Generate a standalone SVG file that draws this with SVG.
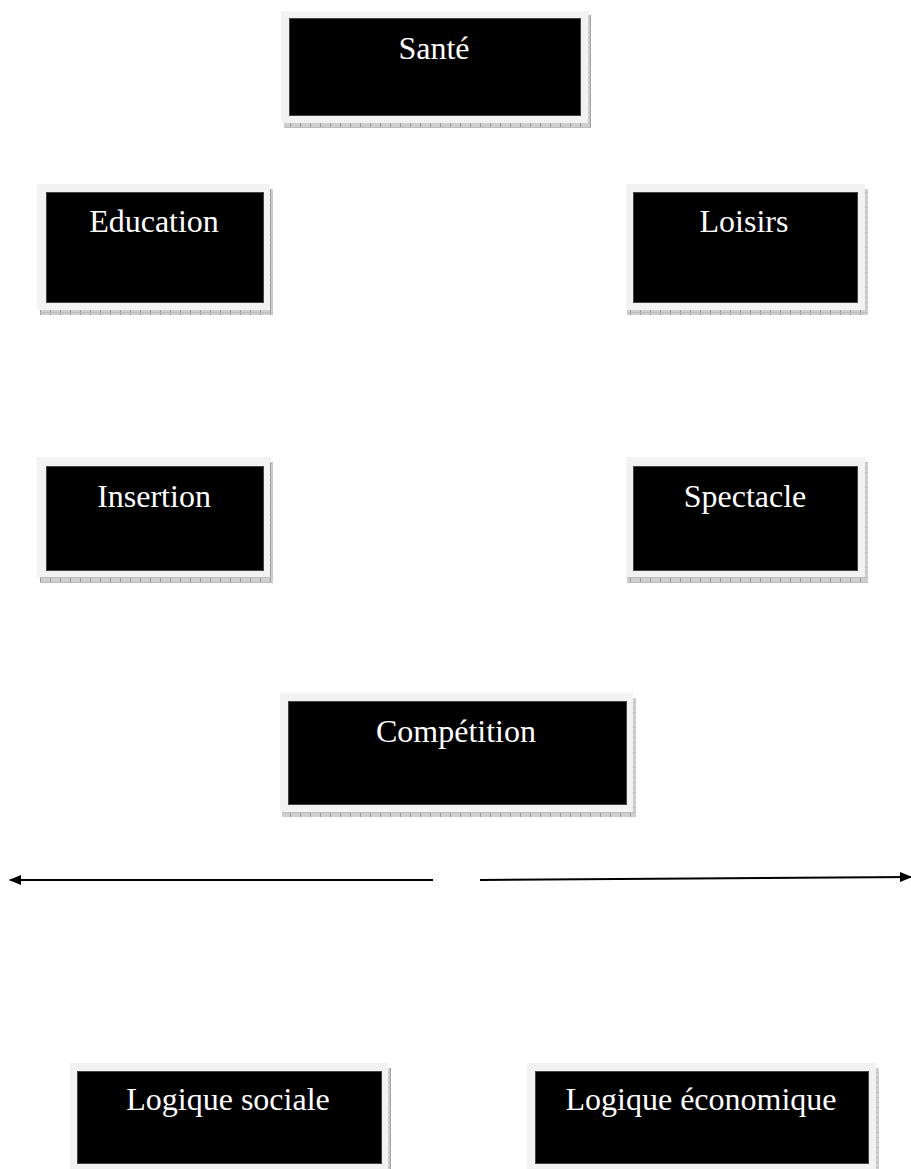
<svg xmlns="http://www.w3.org/2000/svg" width="911" height="1169" viewBox="0 0 911 1169">
<style>
.frame{fill:#f2f2f2}
.box{fill:#000;stroke:#444;stroke-width:1}
.shadow{fill:url(#hatch)}
.lbl{font-family:"Liberation Serif","Times New Roman",serif;font-size:32px;fill:#fff;text-anchor:middle}
.conn{stroke:#000;stroke-width:2;fill:none;marker-end:url(#arrow)}
</style>
<defs>
<pattern id="hatch" width="10" height="5" patternUnits="userSpaceOnUse">
<rect width="10" height="5" fill="#cfcfcf"/>
<rect x="0" y="0" width="1" height="5" fill="#9a9a9a"/>
<rect x="0" y="2" width="10" height="1" fill="#bdbdbd"/>
</pattern>
<marker id="arrow" markerWidth="12" markerHeight="10" refX="11" refY="5" orient="auto" markerUnits="userSpaceOnUse">
<path d="M0,0 L12,5 L0,10 Z" fill="#000"/>
</marker>
</defs>
<rect width="911" height="1169" fill="#fff"/>

<g id="sante">
<rect class="shadow" x="284" y="15" width="307" height="113"/>
<rect class="frame" x="281" y="11" width="307" height="112"/>
<rect class="box" x="289.5" y="18.5" width="291" height="97"/>
<text class="lbl" x="434" y="59">Santé</text>
</g>

<g id="education">
<rect class="shadow" x="40" y="189" width="233" height="126"/>
<rect class="frame" x="37" y="184" width="233" height="126"/>
<rect class="box" x="46.5" y="192.5" width="217" height="110"/>
<text class="lbl" x="154" y="232">Education</text>
</g>

<g id="loisirs">
<rect class="shadow" x="627" y="189" width="241" height="126"/>
<rect class="frame" x="626" y="184" width="239" height="126"/>
<rect class="box" x="633.5" y="192.5" width="224" height="110"/>
<text class="lbl" x="744" y="232">Loisirs</text>
</g>

<g id="insertion">
<rect class="shadow" x="40" y="462" width="233" height="121"/>
<rect class="frame" x="37" y="457" width="233" height="120"/>
<rect class="box" x="46.5" y="466.5" width="217" height="104"/>
<text class="lbl" x="154" y="507">Insertion</text>
</g>

<g id="spectacle">
<rect class="shadow" x="627" y="462" width="241" height="121"/>
<rect class="frame" x="626" y="457" width="239" height="120"/>
<rect class="box" x="633.5" y="466.5" width="224" height="104"/>
<text class="lbl" x="745" y="507">Spectacle</text>
</g>

<g id="competition">
<rect class="shadow" x="282" y="698" width="354" height="119"/>
<rect class="frame" x="280" y="693" width="353" height="119"/>
<rect class="box" x="288.5" y="701.5" width="338" height="103"/>
<text class="lbl" x="456" y="742">Compétition</text>
</g>

<g id="logique-sociale">
<rect class="shadow" x="73" y="1068" width="318" height="101"/>
<rect class="frame" x="70" y="1063" width="318" height="106"/>
<rect class="box" x="77.5" y="1071.5" width="304" height="92"/>
<text class="lbl" x="228" y="1110">Logique sociale</text>
</g>

<g id="logique-economique">
<rect class="shadow" x="530" y="1068" width="349" height="101"/>
<rect class="frame" x="527" y="1063" width="349" height="106"/>
<rect class="box" x="535.5" y="1071.5" width="333" height="92"/>
<text class="lbl" x="701" y="1110">Logique économique</text>
</g>

<g id="connectors">
<line class="conn" x1="433" y1="880" x2="10" y2="880"/>
<line class="conn" x1="480" y1="880" x2="911" y2="877"/>
</g>
</svg>
